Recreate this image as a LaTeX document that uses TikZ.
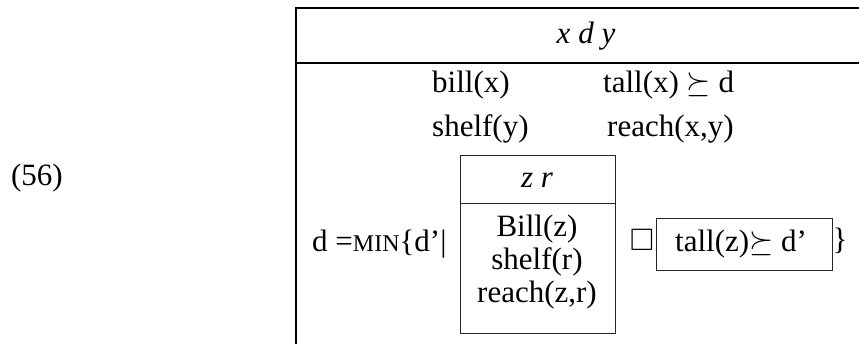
\RequirePackage{fix-cm}
\documentclass[tikz,border=0pt]{standalone}
\usepackage{amssymb}
\usepackage{fontspec}
\setmainfont{Liberation Serif}
\tikzset{
  txt/.style={inner sep=0pt, font=\fontsize{31}{31}\selectfont},
  frameline/.style={line width=1.2pt},
  boxline/.style={line width=0.8pt, draw=black!85}
}
\newcommand{\mysc}[1]{{\fontsize{24}{24}\selectfont #1}}
\begin{document}
\begin{tikzpicture}[x=1pt,y=-1pt]
\useasboundingbox (0,0) rectangle (859,343);
\clip (0,0) rectangle (859,343);
% main box
\coordinate (mtl) at (296,8);
\coordinate (mtr) at (870,8);
\coordinate (mdl) at (296,63);
\coordinate (mdr) at (870,63);
\coordinate (mbl) at (296,350);
\draw[frameline] (mtr) -- (mtl) -- (mbl);
\draw[frameline] (mdl) -- (mdr);
\node[txt] (xdy) at (586,36) {\textit{x d y}};
\node[txt, anchor=west] (billx) at (432,85) {bill(x)};
\node[txt, anchor=west] (tallx) at (603,85) {tall(x) $\succeq$ d};
\node[txt, anchor=west] (shelfy) at (432,129) {shelf(y)};
\node[txt, anchor=west] (reachxy) at (607,129) {reach(x,y)};
% label
\node[txt] (num) at (37,178) {(56)};
% condition line
\node[txt, anchor=base west] (dmin) at (312,251) {d =\mysc{MIN}\{d’|};
% inner box
\node[boxline, draw, minimum width=155pt, minimum height=178pt, inner sep=0pt] (zrbox) at (537.5,244) {};
\coordinate (zrdl) at (460,203);
\coordinate (zrdr) at (615,203);
\draw[boxline] (zrdl) -- (zrdr);
\node[txt] (zr) at (537,180) {\textit{z r}};
\node[txt] (billz) at (537,229) {Bill(z)};
\node[txt] (shelfr) at (537,262) {shelf(r)};
\node[txt] (reachzr) at (537,295) {reach(z,r)};
% box operator
\node[txt] (sq) at (642,240) {$\square$};
% tall box
\node[boxline, draw, minimum width=176pt, minimum height=52pt, inner sep=0pt] (tallbox) at (744,244) {};
\node[txt] (tallz) at (741,244) {tall(z)$\succeq$ d’};
\node[txt] (rbrace) at (840,241) {\}};
\end{tikzpicture}
\end{document}
